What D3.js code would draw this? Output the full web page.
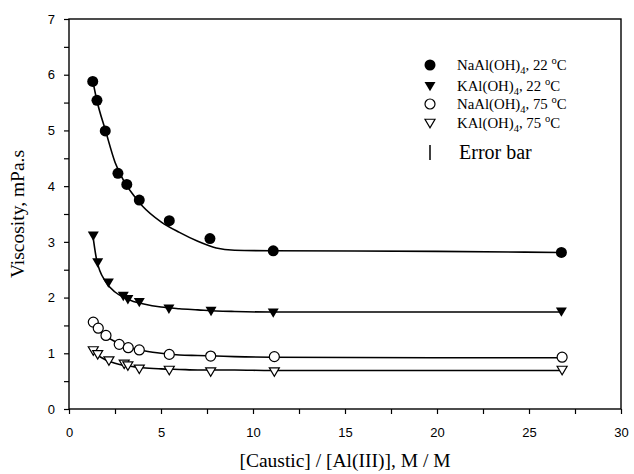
<!DOCTYPE html>
<html><head><meta charset="utf-8">
<script src="https://cdn.jsdelivr.net/npm/d3@7"></script>
<style>body{margin:0;background:#fff}svg{display:block}</style>
</head><body>
<svg id="c" width="634" height="474"></svg>
<script>
// ---- data ----
const naX22 = [1.29, 1.52, 1.97, 2.66, 3.14, 3.82, 5.45, 7.66, 11.1, 26.76];
const naY22 = [5.88, 5.54, 4.99, 4.23, 4.03, 3.75, 3.38, 3.06, 2.84, 2.81];
const kX22  = [1.32, 1.56, 2.14, 2.95, 3.2, 3.82, 5.43, 7.72, 11.1, 26.76];
const kY22  = [3.11, 2.63, 2.27, 2.03, 1.97, 1.92, 1.80, 1.76, 1.73, 1.75];
const naX75 = [1.32, 1.59, 2.01, 2.73, 3.22, 3.82, 5.45, 7.7, 11.16, 26.8];
const naY75 = [1.56, 1.45, 1.32, 1.16, 1.10, 1.06, 0.98, 0.95, 0.94, 0.93];
const kX75  = [1.32, 1.56, 2.17, 3.0, 3.2, 3.82, 5.45, 7.7, 11.16, 26.8];
const kY75  = [1.05, 0.98, 0.87, 0.81, 0.78, 0.72, 0.70, 0.67, 0.67, 0.70];
// fitted curves
const fitX = [1.3, 1.5, 2, 2.5, 3, 3.5, 4, 5, 6, 7, 8, 9, 11, 20, 26.7];
const fitNa22 = [5.88, 5.56, 4.98, 4.43, 4.08, 3.84, 3.64, 3.36, 3.17, 3.01, 2.89, 2.85, 2.84, 2.83, 2.81];
const fitK22  = [3.11, 2.68, 2.28, 2.10, 2.00, 1.93, 1.89, 1.83, 1.80, 1.78, 1.76, 1.75, 1.74, 1.74, 1.74];
const fitNa75 = [1.56, 1.46, 1.31, 1.21, 1.13, 1.08, 1.05, 1.00, 0.97, 0.96, 0.95, 0.94, 0.93, 0.92, 0.92];
const fitK75  = [1.04, 0.98, 0.88, 0.82, 0.78, 0.76, 0.74, 0.72, 0.71, 0.70, 0.70, 0.70, 0.69, 0.69, 0.69];
const xTicks = [0, 5, 10, 15, 20, 25, 30];
const yTicks = [0, 1, 2, 3, 4, 5, 6, 7];
const legendNames = [["NaAl(OH)", "4", ", 22 ", "o", "C"], ["KAl(OH)", "4", ", 22 ", "o", "C"],
                     ["NaAl(OH)", "4", ", 75 ", "o", "C"], ["KAl(OH)", "4", ", 75 ", "o", "C"]];
const xLabel = "[Caustic] / [Al(III)], M / M";
const yLabel = "Viscosity, mPa.s";

const svg = d3.select("#c");
const x = d3.scaleLinear().domain([0, 30]).range([69, 621]);
const y = d3.scaleLinear().domain([0, 7]).range([409, 19]);

// frame
svg.append("rect").attr("x", x(0)).attr("y", y(7)).attr("width", x(30) - x(0)).attr("height", y(0) - y(7))
  .attr("fill", "none").attr("stroke", "#000").attr("stroke-width", 1.4);

// axes
const xAx = svg.append("g").attr("transform", `translate(0,${y(0)})`)
  .call(d3.axisBottom(x).tickValues(d3.range(0, 30.1, 2.5)).tickSize(5).tickFormat(d => xTicks.includes(d) ? d : ""));
const yAx = svg.append("g").attr("transform", `translate(${x(0)},0)`)
  .call(d3.axisLeft(y).tickValues(d3.range(0, 7.01, 0.5)).tickSize(5).tickFormat(d => yTicks.includes(d) ? d : ""));
[xAx, yAx].forEach(g => {
  g.select(".domain").remove();
  g.selectAll("line").attr("stroke", "#000").attr("stroke-width", 1.2);
  g.selectAll("text").attr("font-family", "Liberation Sans, Arial, sans-serif").attr("font-size", 13).attr("fill", "#000");
});
xAx.selectAll("text").attr("dy", "1.5em");
yAx.selectAll("text").attr("x", -14);

// labels
svg.append("text").attr("x", 345).attr("y", 467).attr("text-anchor", "middle")
  .attr("font-family", "Liberation Serif, Times New Roman, serif").attr("font-size", 19.5).text(xLabel);
svg.append("text").attr("transform", "translate(24,214) rotate(-90)").attr("text-anchor", "middle")
  .attr("font-family", "Liberation Serif, Times New Roman, serif").attr("font-size", 19.5).text(yLabel);

// fitted curves
const line = d3.line().x(d => x(d[0])).y(d => y(d[1])).curve(d3.curveMonotoneX);
[fitNa22, fitK22, fitNa75, fitK75].forEach(f => {
  svg.append("path").attr("d", line(fitX.map((v, i) => [v, f[i]])))
    .attr("fill", "none").attr("stroke", "#000").attr("stroke-width", 1.6);
});

// markers
const triDown = (cx, cy, s) => `M${cx - s},${cy - s * 0.75}L${cx + s},${cy - s * 0.75}L${cx},${cy + s * 0.95}Z`;
function drawMarker(g, type, cx, cy) {
  if (type === 0) g.append("circle").attr("cx", cx).attr("cy", cy).attr("r", 5.5).attr("fill", "#000");
  else if (type === 1) g.append("path").attr("d", triDown(cx, cy, 5.5)).attr("fill", "#000");
  else if (type === 2) g.append("circle").attr("cx", cx).attr("cy", cy).attr("r", 5).attr("fill", "#fff").attr("stroke", "#000").attr("stroke-width", 1.2);
  else g.append("path").attr("d", triDown(cx, cy, 5)).attr("fill", "#fff").attr("stroke", "#000").attr("stroke-width", 1.2);
}
const series = [[naX22, naY22], [kX22, kY22], [naX75, naY75], [kX75, kY75]];
const mg = svg.append("g");
series.forEach((s, t) => s[0].forEach((xv, i) => drawMarker(mg, t, x(xv), y(s[1][i]))));

// legend
const lg = svg.append("g");
const ly = [65, 86, 104, 123];
legendNames.forEach((n, i) => {
  drawMarker(lg, i, 430, ly[i]);
  const t = lg.append("text").attr("x", 457).attr("y", ly[i] + 5)
    .attr("font-family", "Liberation Serif, Times New Roman, serif").attr("font-size", 14.8);
  t.append("tspan").text(n[0]);
  t.append("tspan").attr("dy", 4).attr("font-size", 10.5).text(n[1]);
  t.append("tspan").attr("dy", -4).text(n[2]);
  t.append("tspan").attr("dy", -6).attr("font-size", 10.5).text(n[3]);
  t.append("tspan").attr("dy", 6).text(n[4]);
});
lg.append("line").attr("x1", 430).attr("x2", 430).attr("y1", 145).attr("y2", 160).attr("stroke", "#000").attr("stroke-width", 1.5);
lg.append("text").attr("x", 459).attr("y", 159).attr("font-family", "Liberation Serif, Times New Roman, serif")
  .attr("font-size", 20).text("Error bar");
</script>
</body></html>
